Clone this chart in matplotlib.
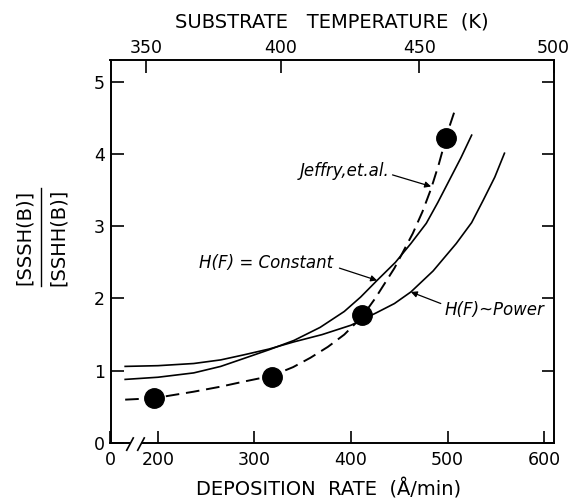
import matplotlib.pyplot as plt
import numpy as np

# Datos (tasa de deposicion en A/min, cociente SSSH/SSHH)
dot_rate = [196, 318, 411, 498]
dot_ratio = [0.62, 0.92, 1.77, 4.22]

jeffry_rate = [166, 196, 237, 265, 289, 318, 340, 358, 376, 393, 411, 425, 445,
               464, 474, 483, 491, 497, 502, 507]
jeffry_ratio = [0.60, 0.62, 0.71, 0.78, 0.85, 0.93, 1.05, 1.18, 1.33, 1.50, 1.74,
                2.00, 2.42, 2.90, 3.20, 3.52, 3.86, 4.15, 4.38, 4.58]

const_rate = [166, 200, 237, 265, 289, 315, 341, 368, 393, 410, 427, 446, 462,
              478, 490, 502, 514, 525]
const_ratio = [0.88, 0.91, 0.97, 1.06, 1.17, 1.29, 1.42, 1.60, 1.82, 2.02, 2.25,
               2.50, 2.76, 3.04, 3.33, 3.64, 3.95, 4.26]

power_rate = [166, 200, 237, 265, 289, 315, 341, 370, 400, 426, 445, 462, 485,
              509, 525, 537, 549, 559]
power_ratio = [1.06, 1.07, 1.10, 1.15, 1.22, 1.30, 1.40, 1.50, 1.63, 1.80, 1.93,
               2.09, 2.38, 2.76, 3.05, 3.36, 3.68, 4.01]

rate_ticks = [200, 300, 400, 500, 600]
temp_labels = ["350", "400", "450", "500"]
temp_pos = [187.3, 327.4, 470.9, 609.8]
y_ticks = [0, 1, 2, 3, 4, 5]

xmin, xmax = 150.8, 609.8
ymin, ymax = 0, 5.30
W, H = 570, 501

fig = plt.figure(figsize=(5.7, 5.01), dpi=100)
ax = fig.add_axes([110.5 / W, 1 - 443 / H, 443 / W, 383 / H])
ax.set_xlim(xmin, xmax)
ax.set_ylim(ymin, ymax)

# Curvas
ax.plot(jeffry_rate, jeffry_ratio, color="black", lw=1.4, dashes=(7, 3.5))
ax.plot(const_rate, const_ratio, color="black", lw=1.2)
ax.plot(power_rate, power_ratio, color="black", lw=1.2)
ax.plot(dot_rate, dot_ratio, "o", color="black", markersize=14)

# Etiquetas con flechas
arrow = dict(arrowstyle="-|>", color="black", lw=0.9, mutation_scale=9, shrinkA=0, shrinkB=0)
ax.annotate("", xy=(483, 3.55), xytext=(443, 3.71), arrowprops=arrow)
ax.text(440, 3.76, "Jeffry,et.al.", ha="right", va="center", fontsize=12, style="italic")
ax.annotate("", xy=(427, 2.25), xytext=(388, 2.42), arrowprops=arrow)
ax.text(381, 2.49, "H(F) = Constant", ha="right", va="center", fontsize=12, style="italic")
ax.annotate("", xy=(462, 2.09), xytext=(493, 1.93), arrowprops=arrow)
ax.text(497, 1.84, "H(F)~Power", ha="left", va="center", fontsize=12, style="italic")

# Ejes
for s in ["top", "right", "left"]:
    ax.spines[s].set_linewidth(1.4)
ax.spines["bottom"].set_visible(False)
ax.plot([xmin, 170], [0, 0], color="black", lw=1.4, clip_on=False)
ax.plot([183, xmax], [0, 0], color="black", lw=1.4, clip_on=False)
ax.plot([167.6, 174.4], [-0.10, 0.07], color="black", lw=1.2, clip_on=False)
ax.plot([179.0, 185.8], [-0.10, 0.07], color="black", lw=1.2, clip_on=False)

ax.set_xticks([xmin] + rate_ticks)
ax.set_xticklabels(["0"] + [str(t) for t in rate_ticks])
ax.xaxis.get_major_ticks()[0].tick1line.set_visible(False)
ax.set_yticks(y_ticks)
ax.set_yticklabels([str(t) for t in y_ticks])
ax.tick_params(axis="x", direction="in", length=9, width=1.2, labelsize=12.5, pad=6)
ax.tick_params(axis="y", direction="in", length=9, width=1.2, labelsize=12.5, pad=4,
               right=True)

top = ax.twiny()
top.set_xlim(xmin, xmax)
top.set_xticks(temp_pos)
top.set_xticklabels(temp_labels)
top.tick_params(axis="x", direction="in", length=9, width=1.2, labelsize=12.5, pad=2)
for s in top.spines.values():
    s.set_visible(False)

fig.text(329 / W, 1 - 489 / H, "DEPOSITION  RATE  (\u00c5/min)", ha="center", va="center", fontsize=14)
fig.text(332 / W, 1 - 22 / H, "SUBSTRATE   TEMPERATURE  (K)", ha="center", va="center", fontsize=14)

# Etiqueta del eje y como fraccion
fig.text(24 / W, 1 - 237 / H, "[SSSH(B)]", rotation=90, ha="center", va="center", fontsize=14)
fig.text(58 / W, 1 - 237 / H, "[SSHH(B)]", rotation=90, ha="center", va="center", fontsize=14)
fig.add_artist(plt.Line2D([41 / W, 41 / W], [1 - 188 / H, 1 - 286 / H], color="black", lw=1.0))

fig.savefig("out.png", dpi=100)
